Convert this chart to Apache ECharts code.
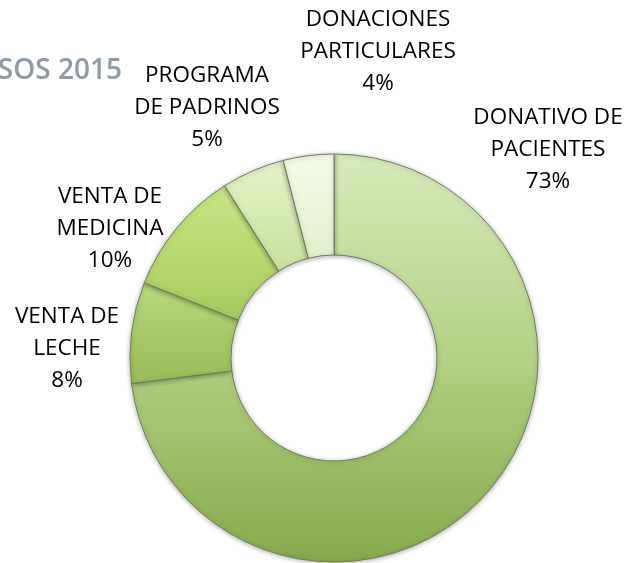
<!DOCTYPE html>
<html>
<head>
<meta charset="utf-8">
<script src="https://cdn.jsdelivr.net/npm/echarts@6/dist/echarts.min.js"></script>
<style>
html,body{margin:0;padding:0;background:#fff;}
#c{width:629px;height:563px;}
</style>
</head>
<body>
<div id="c"></div>
<script>
var titleText = 'INGRESOS 2015';
var categories = ['DONATIVO DE\nPACIENTES', 'VENTA DE\nLECHE', 'VENTA DE\nMEDICINA', 'PROGRAMA\nDE PADRINOS', 'DONACIONES\nPARTICULARES'];
var values = [73, 8, 10, 5, 4];

var fills = [
  ['#d8ebbb', '#b2d184', '#86a94b'],
  ['#b8d97e', '#a8cb68', '#98ba58'],
  ['#c8e488', '#b8d970', '#a6ca5e'],
  ['#e3f2c9', '#d6ebb2', '#c8e09d'],
  ['#f4fae9', '#ecf6da', '#e2f0cb']
];
var labelPos = [
  [548, 150], [67, 349], [110, 229], [207, 108], [378, 52]
];

var chart = echarts.init(document.getElementById('c'), null, {renderer: 'canvas'});
var data = categories.map(function (n, i) {
  return {
    name: n,
    value: values[i],
    itemStyle: {
      color: {
        type: 'linear', x: 0, y: 0, x2: 0, y2: 1,
        colorStops: [
          {offset: 0, color: fills[i][0]},
          {offset: 0.5, color: fills[i][1]},
          {offset: 1, color: fills[i][2]}
        ]
      }
    }
  };
});

chart.setOption({
  animation: false,
  graphic: [{
    type: 'text',
    right: 507,
    top: 57,
    style: {
      text: titleText,
      font: '600 28px "Open Sans"',
      fill: '#8e9aa6'
    }
  }],
  series: [{
    type: 'pie',
    center: [334, 358],
    radius: [103, 204],
    startAngle: 90,
    clockwise: true,
    avoidLabelOverlap: false,
    itemStyle: {
      borderColor: '#6e7d5e',
      borderWidth: 1,
      shadowBlur: 5,
      shadowColor: 'rgba(0,0,0,0.3)',
      shadowOffsetY: 1
    },
    label: {
      show: true,
      position: 'outside',
      formatter: function (p) { return p.name + '\n' + Math.round(p.percent) + '%'; },
      fontFamily: '"Open Sans"',
      fontSize: 22.5,
      lineHeight: 32,
      color: '#000',
      align: 'center'
    },
    labelLine: {show: false},
    labelLayout: function (p) {
      var pos = labelPos[p.dataIndex];
      return {x: pos[0], y: pos[1], align: 'center', verticalAlign: 'middle'};
    },
    emphasis: {disabled: true},
    data: data
  }]
});
</script>
</body>
</html>
